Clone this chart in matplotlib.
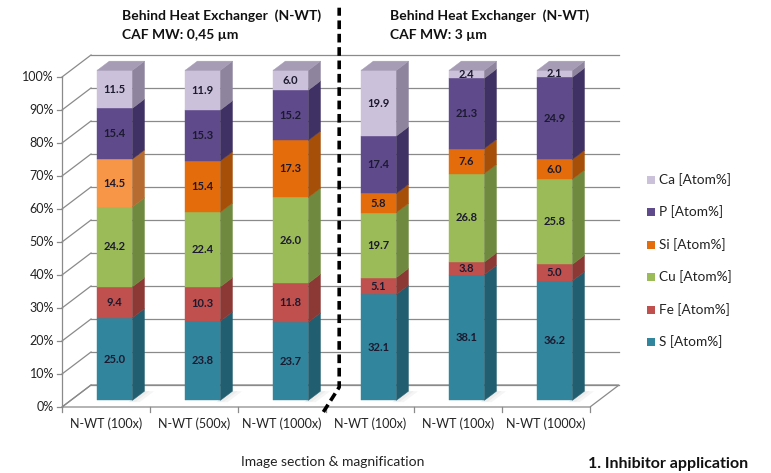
import matplotlib
matplotlib.use("Agg")
import matplotlib.pyplot as plt
from matplotlib.patches import Polygon, Rectangle

plt.rcParams['font.family'] = ['Lato', 'DejaVu Sans']

# ---- data -------------------------------------------------------------
categories = ["N-WT (100x)", "N-WT (500x)", "N-WT (1000x)",
              "N-WT (100x)", "N-WT (100x)", "N-WT (1000x)"]
elements = ["S [Atom%]", "Fe [Atom%]", "Cu [Atom%]",
            "Si [Atom%]", "P [Atom%]", "Ca [Atom%]"]
s_vals = [25.0, 23.8, 23.7, 32.1, 38.1, 36.2]
fe_vals = [9.4, 10.3, 11.8, 5.1, 3.8, 5.0]
cu_vals = [24.2, 22.4, 26.0, 19.7, 26.8, 25.8]
si_vals = [14.5, 15.4, 17.3, 5.8, 7.6, 6.0]
p_vals = [15.4, 15.3, 15.2, 17.4, 21.3, 24.9]
ca_vals = [11.5, 11.9, 6.0, 19.9, 2.4, 2.1]
y_ticks = [0, 10, 20, 30, 40, 50, 60, 70, 80, 90, 100]
group_title_1 = ["Behind Heat Exchanger  (N-WT)", "CAF MW: 0,45 µm"]
group_title_2 = ["Behind Heat Exchanger  (N-WT)", "CAF MW: 3 µm"]
x_title = "Image section & magnification"
footer = "1. Inhibitor application"

series = [s_vals, fe_vals, cu_vals, si_vals, p_vals, ca_vals]

# ---- style ------------------------------------------------------------
front_cols = ["#31859C", "#C0504D", "#9BBB59", "#E46C0A", "#5F4A8B", "#CCC1DA"]
side_cols = ["#215F70", "#8C3936", "#6F8A3E", "#A54F08", "#3F3163", "#8F849E"]
top_col = "#A79CB6"
# first bar's Si segment is drawn in a lighter orange
si_front_first = "#F79646"
si_side_first = "#B66C30"
label_col = "#1C1A30"
grid_col = "#8A8A8A"

W, H = 771, 473
fig = plt.figure(figsize=(W / 100, H / 100), dpi=100)
ax = fig.add_axes([0, 0, 1, 1])
PX_X = 88.0   # pixels per category
PX_Y = 3.3    # pixels per percent
X0, Y0 = 62, 407  # front-plane origin (pixels from left / top)
ax.set_xlim(-X0 / PX_X, (W - X0) / PX_X)
ax.set_ylim(-(H - Y0) / PX_Y, Y0 / PX_Y)
ax.axis("off")

DX, DY = 0.33, 6.67  # depth vector (data units)


def proj(x, y, z):
    return (x + z * DX, y + z * DY)


def poly(pts, fc, ec=None, lw=0.3, zorder=2, alpha=1.0):
    ax.add_patch(Polygon([proj(*p) for p in pts], closed=True, facecolor=fc,
                         edgecolor=ec if ec else fc, linewidth=lw,
                         zorder=zorder, alpha=alpha, joinstyle="miter"))


n = len(categories)

# floor
poly([(0, 0, 0), (n, 0, 0), (n, 0, 1), (0, 0, 1)], "white", ec=grid_col,
     lw=0.9, zorder=1)

# back-wall gridlines and left-wall diagonals
for t in y_ticks:
    a = proj(0, t, 1)
    b = proj(n, t, 1)
    ax.plot([a[0], b[0]], [a[1], b[1]], color=grid_col, lw=0.9, zorder=1)
    c = proj(0, t, 0)
    ax.plot([c[0], a[0]], [c[1], a[1]], color=grid_col, lw=0.9, zorder=1)
    # y tick mark and label
    ax.plot([-0.06, 0], [t, t], color=grid_col, lw=0.9, zorder=1)
    ax.text(-8 / PX_X, t, f"{t}%", ha="right", va="center", fontsize=9,
            color="#222222")

# front y axis
ax.plot([0, 0], [0, 100], color=grid_col, lw=0.9, zorder=1)
# x tick marks
for i in range(n + 1):
    ax.plot([i, i], [0, -1.6], color=grid_col, lw=0.9, zorder=1)

# bars
Z0, Z1 = 0.30, 0.72
HALF = 0.20
for i in range(n):
    vals = [s[i] for s in series]
    total = sum(vals)
    x0, x1 = i + 0.5 - HALF, i + 0.5 + HALF
    # soft floor shadow
    for k, a in enumerate([0.07, 0.07, 0.09]):
        g = 0.05 + 0.05 * k
        poly([(x1 - 0.02, 0, Z0 - 0.08 + 0.03 * k), (x1 + 0.16 - g, 0, Z0 - 0.08 + 0.03 * k),
              (x1 + 0.16 - g, 0, Z1), (x1 - 0.02, 0, Z1)],
             "#7F7F7F", lw=0, zorder=1.5, alpha=a)
    cum = 0.0
    for k, v in enumerate(vals):
        h = v / total * 100.0
        fc, sc = front_cols[k], side_cols[k]
        if k == 3 and i == 0:
            fc, sc = si_front_first, si_side_first
        poly([(x0, cum, Z0), (x1, cum, Z0), (x1, cum + h, Z0), (x0, cum + h, Z0)],
             fc, zorder=3)
        poly([(x1, cum, Z0), (x1, cum, Z1), (x1, cum + h, Z1), (x1, cum + h, Z0)],
             sc, zorder=3)
        lx, ly = proj(i + 0.5, cum + h / 2, Z0)
        ax.text(lx, ly, f"{v:.1f}", ha="center", va="center", fontsize=8,
                fontweight="bold", color=label_col, zorder=5)
        cum += h
    poly([(x0, cum, Z0), (x1, cum, Z0), (x1, cum, Z1), (x0, cum, Z1)],
         top_col, zorder=3)

# category labels
for i, c in enumerate(categories):
    ax.text(i + 0.5, -17 / PX_Y, c, ha="center", va="center", fontsize=9,
            color="#222222")

# dashed separator between the two filter groups
ax.plot([2.97, 3.15, 3.15], [-1.5, 6, 121], color="black", lw=2.6,
        ls=(0, (2.4, 1.3)), zorder=6, solid_capstyle="butt")


def ftext(x, y, s, **kw):
    fig.text(x / W, 1 - y / H, s, **kw)


# group titles
for x, lines in [(122, group_title_1), (390, group_title_2)]:
    ftext(x, 16, lines[0], ha="left", va="center", fontsize=10,
          fontweight="bold", color="#111111")
    ftext(x, 35, lines[1], ha="left", va="center", fontsize=10,
          fontweight="bold", color="#111111")

# legend (top entry = top segment)
leg_y = [342, 310, 277, 245, 212, 180]
for k, name in enumerate(elements):
    y = leg_y[k]
    fig.patches.append(Rectangle((647 / W, 1 - (y + 4) / H), 8 / W, 8 / H,
                                 transform=fig.transFigure,
                                 facecolor=front_cols[k], edgecolor="none"))
    ftext(659, y, name, ha="left", va="center", fontsize=9.8, color="#222222")

ftext(333, 462, x_title, ha="center", va="center", fontsize=10, color="#222222")
ftext(588, 464, footer, ha="left", va="center", fontsize=11.5,
      fontweight="bold", color="#111111")

fig.savefig("out.png", dpi=100)
